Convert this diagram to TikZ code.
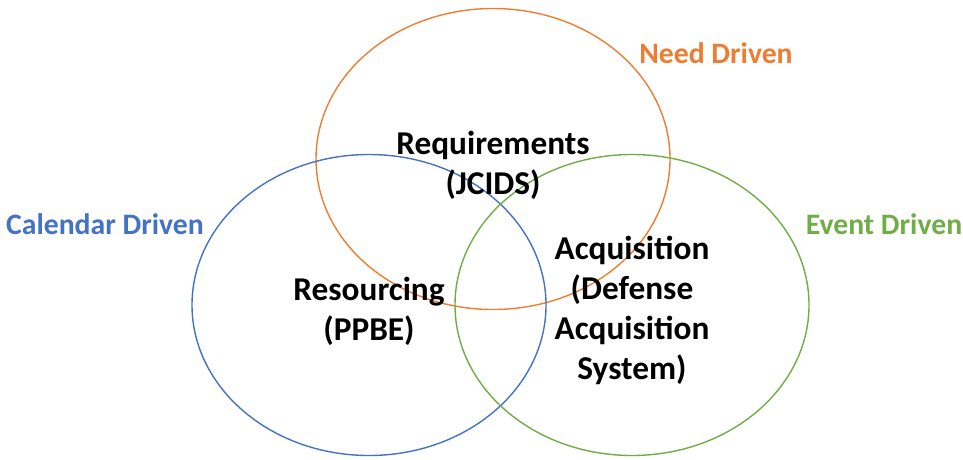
\documentclass[tikz,border=0pt]{standalone}
\usepackage{fontspec}
\setmainfont{Carlito}
\usetikzlibrary{shapes.geometric}
\definecolor{needorange}{RGB}{237, 125, 49}
\definecolor{calblue}{RGB}{68, 114, 196}
\definecolor{eventgreen}{RGB}{112, 173, 71}
\tikzset{
    circ/.style={ellipse, draw, line width=1.4pt, minimum width=354pt,
        minimum height=301pt, inner sep=0pt},
    process/.style={font=\fontsize{33.3}{40}\selectfont\bfseries, align=center,
        inner sep=0pt},
    driver/.style={font=\fontsize{29.7}{34}\selectfont\bfseries, anchor=base,
        inner sep=0pt}
}

\begin{document}
\begin{tikzpicture}[x=1pt, y=-1pt]

    \useasboundingbox (0, 0) rectangle (963, 459);

    \node[circ, needorange] (need) at (493, 159) {};
    \node[circ, calblue] (calendar) at (369, 305) {};
    \node[circ, eventgreen] (event) at (632, 305) {};

    \node[process] (req) at (493, 165) {Requirements\\(JCIDS)};
    \node[process] (res) at (369, 311) {Resourcing\\(PPBE)};
    \node[process] (acq) at (632, 310)
        {Acquisition\\(Defense\\Acquisition\\System)};

    \node[driver, needorange] (needlbl) at (716, 63) {Need Driven};
    \node[driver, calblue] (callbl) at (105, 234) {Calendar Driven};
    \node[driver, eventgreen] (eventlbl) at (884, 234) {Event Driven};

\end{tikzpicture}
\end{document}
